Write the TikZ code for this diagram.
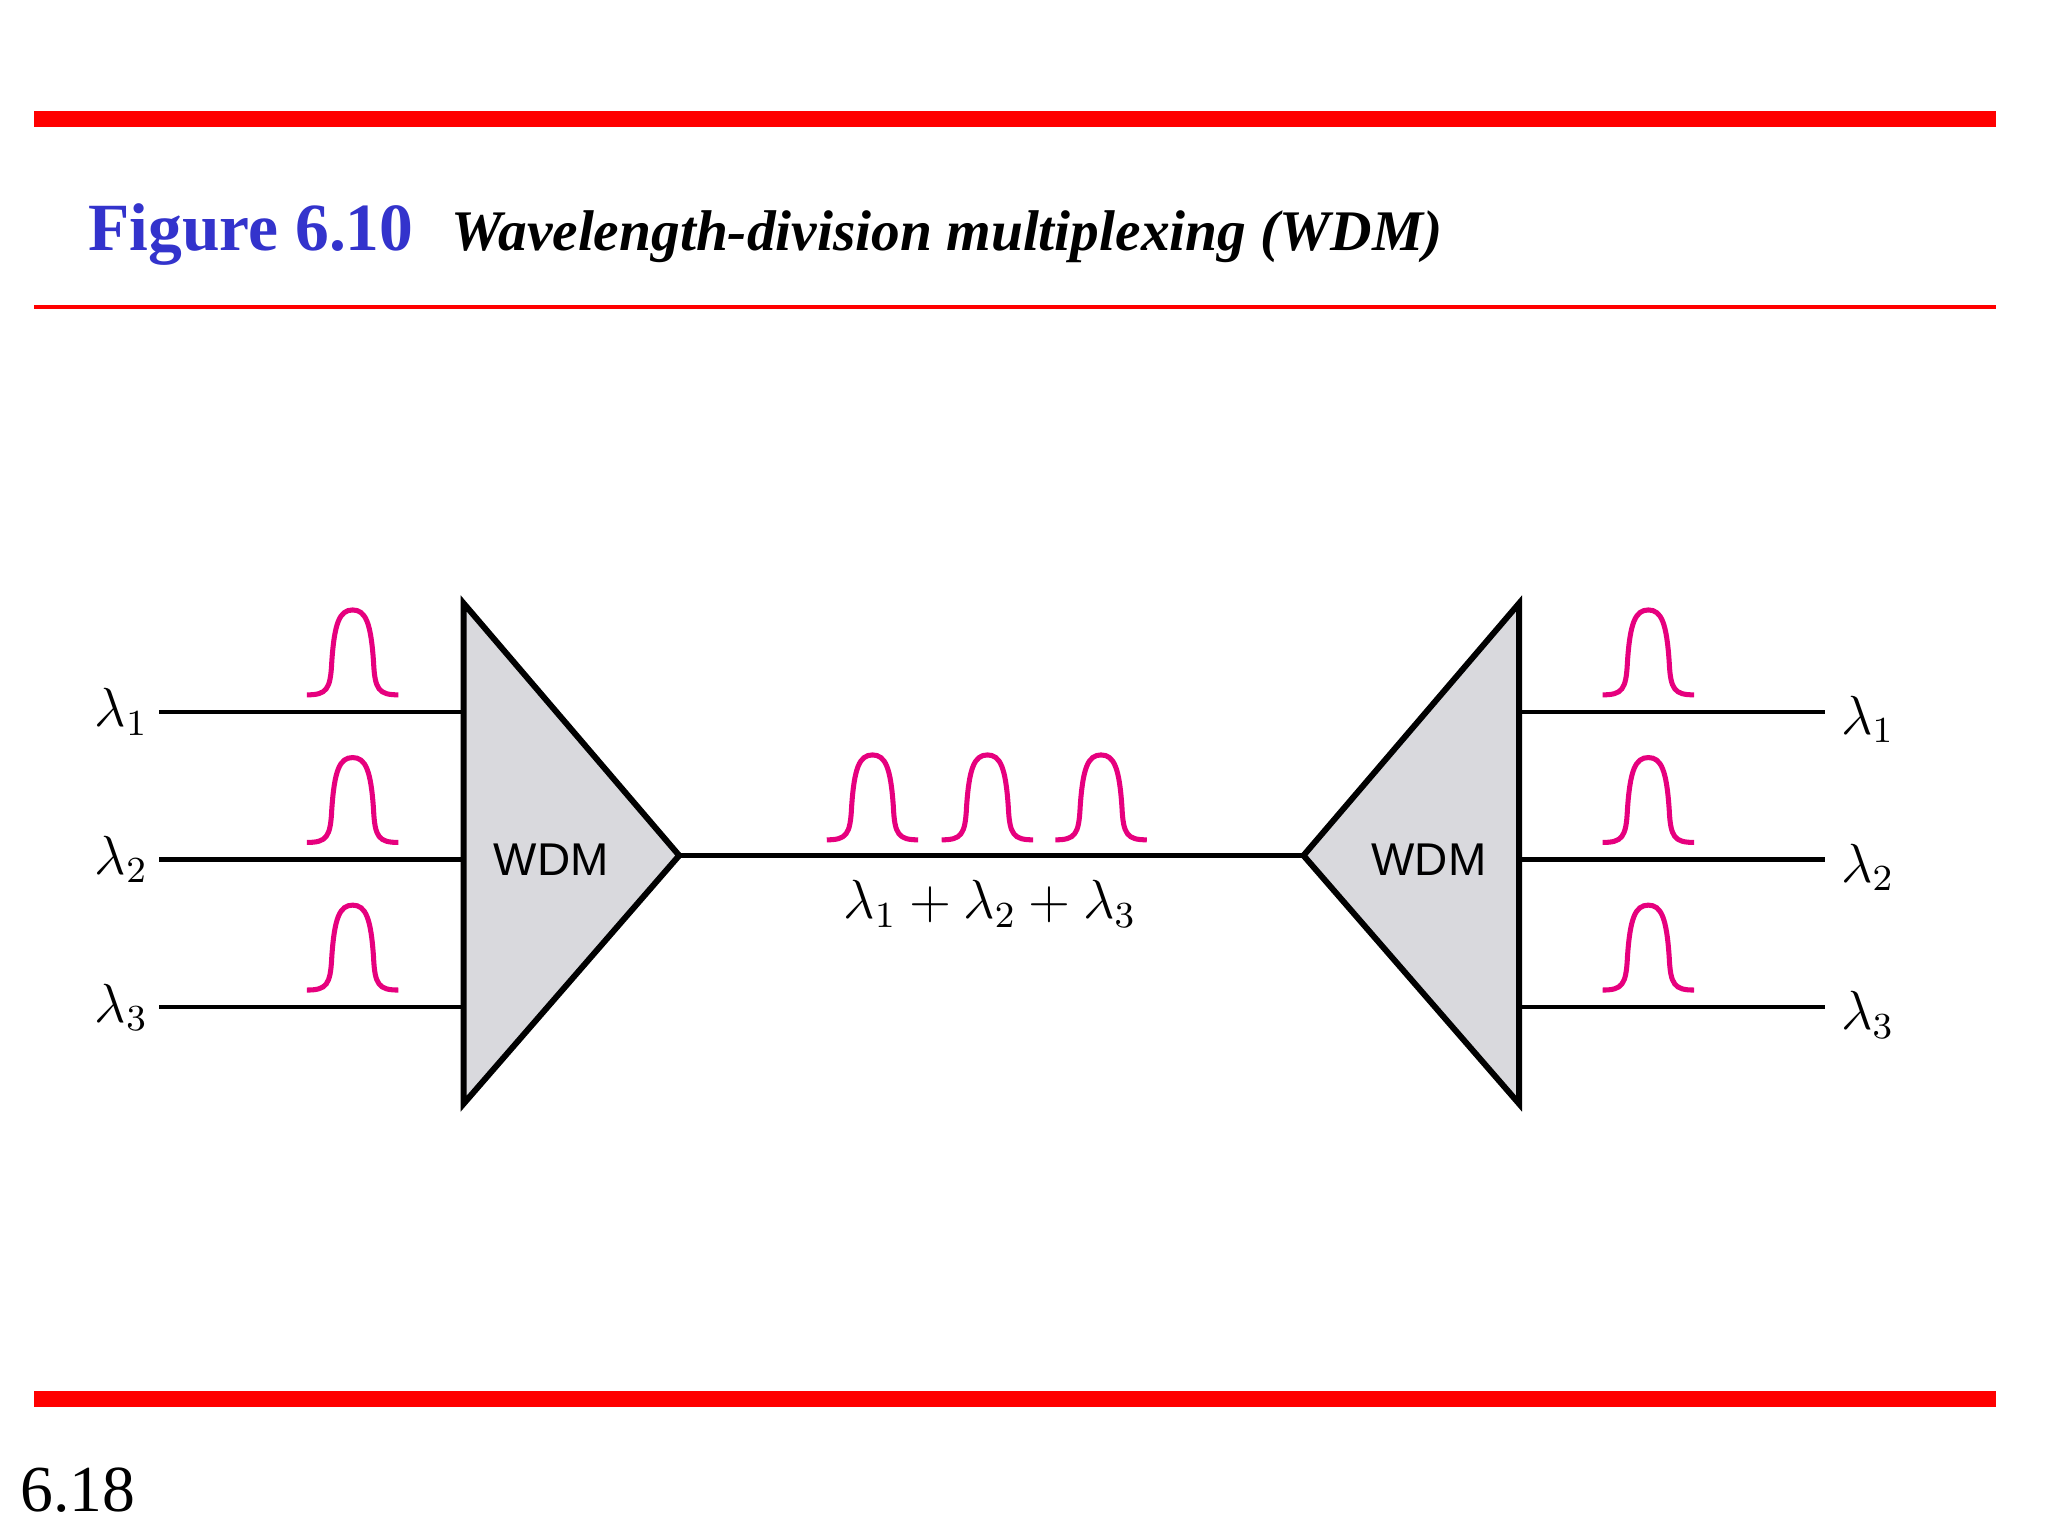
\documentclass[tikz,border=0pt]{standalone}
\usepackage{fontspec}
\setmainfont{Liberation Serif}
\newfontfamily\wdmsans{Liberation Sans}
\definecolor{barred}{RGB}{255,0,0}
\definecolor{titleblue}{RGB}{51,51,204}
\definecolor{pulsemag}{RGB}{230,0,126}
\definecolor{wdmgray}{RGB}{217,217,221}
\begin{document}
\begin{tikzpicture}[x=0.01cm,y=-0.01cm,
  fiber/.style={line width=1pt},
  mux/.style={draw,fill=wdmgray,line width=1.3pt,line join=miter},
  lab/.style={font=\fontsize{12}{14}\selectfont},
  pulse/.pic={\draw[pulsemag,line width=1.1pt]
     (-35,0) .. controls (-20,0) and (-17,-4) .. (-16,-25)
     .. controls (-14,-55) and (-10,-65) .. (0,-65)
     .. controls (10,-65) and (14,-55) .. (16,-25)
     .. controls (17,-4) and (20,0) .. (35,0);}]
\useasboundingbox (0,0) rectangle (1568,1176);
\fill[barred] (26,85) rectangle (1528,97);
\fill[barred] (26,233.5) rectangle (1528,236.5);
\fill[barred] (26,1065) rectangle (1528,1077);
\node[anchor=base west,inner sep=0,text=titleblue,font=\fontsize{14.7}{17}\selectfont\bfseries] (fig) at (67,192) {Figure 6.10};
\node[anchor=base west,inner sep=0,font=\fontsize{12.5}{15}\selectfont\bfseries\itshape] (ttl) at (345,192) {Wavelength-division multiplexing (WDM)};
\node[anchor=base west,inner sep=0,font=\fontsize{14.3}{17}\selectfont] (pg) at (15,1157) {6.18};
% multiplexers
\draw[mux] (355,462) coordinate (la) -- (520,655) coordinate (lt) -- (355,845) coordinate (lb) -- cycle;
\draw[mux] (1163,462) coordinate (ra) -- (998,655) coordinate (rt) -- (1163,845) coordinate (rb) -- cycle;
\node[font=\wdmsans\fontsize{10}{12}\selectfont] (wl) at (422,658) {WDM};
\node[font=\wdmsans\fontsize{10}{12}\selectfont] (wr) at (1094,658) {WDM};
\draw[fiber] (lt) -- (rt);
\node[lab] (sum) at (758,692) {$\lambda_1 + \lambda_2 + \lambda_3$};
\foreach \i/\y in {1/545,2/658,3/771}{
  \coordinate (li\i) at (122,\y); \coordinate (lm\i) at (355,\y);
  \coordinate (ri\i) at (1397,\y); \coordinate (rm\i) at (1163,\y);
  \draw[fiber] (li\i) -- (lm\i);
  \draw[fiber] (rm\i) -- (ri\i);
  \node[lab] (ll\i) at (93,\y) {$\lambda_\i$};
  \node[lab] (rl\i) at (1430,\y+6) {$\lambda_\i$};
  \pic at (270,\y-13) {pulse};
  \pic at (1262,\y-13) {pulse};
}
\foreach \x in {668,756,843}{\pic at (\x,643) {pulse};}
\end{tikzpicture}
\end{document}
